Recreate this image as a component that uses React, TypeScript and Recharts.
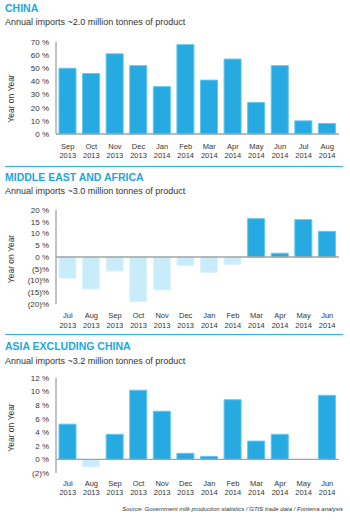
import React from "react";
import { Bar, BarChart, Cell, ReferenceLine, XAxis, YAxis } from "recharts";

const chinaMonths = [
  "Sep 2013", "Oct 2013", "Nov 2013", "Dec 2013", "Jan 2014", "Feb 2014",
  "Mar 2014", "Apr 2014", "May 2014", "Jun 2014", "Jul 2014", "Aug 2014",
];
const chinaValues = [50, 46, 61, 52, 36, 68, 41, 57, 24, 52, 10, 8];
const chinaTicks = [0, 10, 20, 30, 40, 50, 60, 70];

const meaMonths = [
  "Jul 2013", "Aug 2013", "Sep 2013", "Oct 2013", "Nov 2013", "Dec 2013",
  "Jan 2014", "Feb 2014", "Mar 2014", "Apr 2014", "May 2014", "Jun 2014",
];
const meaValues = [-9, -13.6, -6, -19, -14, -3.7, -6.5, -3.1, 16.3, 1.6, 15.9, 10.9];
const meaTicks = [-20, -15, -10, -5, 0, 5, 10, 15, 20];

const asiaMonths = [
  "Jul 2013", "Aug 2013", "Sep 2013", "Oct 2013", "Nov 2013", "Dec 2013",
  "Jan 2014", "Feb 2014", "Mar 2014", "Apr 2014", "May 2014", "Jun 2014",
];
const asiaValues = [5.2, -1.1, 3.7, 10.2, 7.1, 0.9, 0.45, 8.8, 2.7, 3.7, 0, 9.45];
const asiaTicks = [-2, 0, 2, 4, 6, 8, 10, 12];

const FONT = '"Liberation Sans", Arial, sans-serif';
const BLUE = "#27a9e1";
const BLUE_EDGE = "#62c7f0";
const PALE = "#c9ecfb";
const PALE_EDGE = "#dcf3fd";
const TITLE = "#1fa6e2";
const TEXT = "#333";
const AXIS = "#a3a3a3";

const pct = (v: number) => (v < 0 ? `(${-v})%` : `${v} %`);

function MonthTick(props: any) {
  const { x, y, payload, dy1, dy2 } = props;
  const [m, yr] = String(payload.value).split(" ");
  return (
    <text textAnchor="middle" fontSize={7.5} fill={TEXT} fontFamily={FONT}>
      <tspan x={x} y={y + dy1}>{m}</tspan>
      <tspan x={x} y={y + dy2}>{yr}</tspan>
    </text>
  );
}

function PctTick(props: any) {
  const { x, y, payload } = props;
  return (
    <text x={x - 7} y={y} dy="0.35em" textAnchor="end" fontSize={8} fill={TEXT} fontFamily={FONT}>
      {pct(payload.value)}
    </text>
  );
}

function YearLabel(props: any) {
  const { viewBox, shift } = props;
  const cx = 10.5;
  const cy = viewBox.y + viewBox.height / 2 + shift;
  return (
    <text
      x={cx}
      y={cy}
      transform={`rotate(-90 ${cx} ${cy})`}
      textAnchor="middle"
      dominantBaseline="central"
      fontSize={8.5}
      fill={TEXT}
      fontFamily={FONT}
    >
      Year on Year
    </text>
  );
}

type PanelProps = {
  months: string[];
  values: number[];
  ticks: number[];
  top: number;
  height: number;
  marginTop: number;
  axisHeight: number;
  dy1: number;
  dy2: number;
  labelShift: number;
};

function Panel({ months, values, ticks, top, height, marginTop, axisHeight, dy1, dy2, labelShift }: PanelProps) {
  const data = months.map((month, i) => ({ month, value: values[i] }));
  return (
    <div style={{ position: "absolute", left: 0, top }}>
      <BarChart
        width={350}
        height={height}
        data={data}
        margin={{ top: marginTop, right: 11, bottom: 0, left: 0 }}
      >
        <XAxis
          dataKey="month"
          axisLine={false}
          tickLine={false}
          tickSize={0}
          tickMargin={0}
          height={axisHeight}
          interval={0}
          tick={<MonthTick dy1={dy1} dy2={dy2} />}
        />
        <YAxis
          type="number"
          width={56}
          domain={[ticks[0], ticks[ticks.length - 1]]}
          ticks={ticks}
          interval={0}
          axisLine={{ stroke: AXIS, strokeWidth: 1.3 }}
          tickLine={false}
          tickSize={0}
          tickMargin={0}
          tick={<PctTick />}
          label={<YearLabel shift={labelShift} />}
        />
        <ReferenceLine y={0} stroke={AXIS} strokeWidth={1.3} />
        <Bar dataKey="value" barSize={17} isAnimationActive={false} strokeWidth={1}>
          {data.map((d) => (
            <Cell
              key={d.month}
              fill={d.value < 0 ? PALE : BLUE}
              stroke={d.value < 0 ? PALE_EDGE : BLUE_EDGE}
            />
          ))}
        </Bar>
      </BarChart>
    </div>
  );
}

function Heading({ title, subtitle, top }: { title: string; subtitle: string; top: number }) {
  return (
    <>
      <div
        style={{
          position: "absolute",
          left: 5,
          top,
          fontSize: 10.5,
          lineHeight: "10.5px",
          fontWeight: "bold",
          color: TITLE,
          whiteSpace: "nowrap",
        }}
      >
        {title}
      </div>
      <div
        style={{
          position: "absolute",
          left: 5,
          top: top + 15.3,
          fontSize: 9,
          lineHeight: "9px",
          color: TEXT,
          whiteSpace: "nowrap",
        }}
      >
        {subtitle}
      </div>
    </>
  );
}

const Rule = ({ top }: { top: number }) => (
  <div style={{ position: "absolute", left: 5, top, width: 338, height: 1, background: "#2bb3e8" }} />
);

export default function App() {
  return (
    <div
      style={{
        position: "absolute",
        left: 0,
        top: 0,
        width: 350,
        height: 520,
        background: "#fff",
        fontFamily: FONT,
        overflow: "hidden",
      }}
    >
      <Heading title="CHINA" subtitle="Annual imports ~2.0 million tonnes of product" top={3.1} />
      <Panel
        months={chinaMonths}
        values={chinaValues}
        ticks={chinaTicks}
        top={34}
        height={130}
        marginTop={8}
        axisHeight={30}
        dy1={14.7}
        dy2={24}
        labelShift={10.5}
      />
      <Rule top={166} />

      <Heading title="MIDDLE EAST AND AFRICA" subtitle="Annual imports ~3.0 million tonnes of product" top={172.1} />
      <Panel
        months={meaMonths}
        values={meaValues}
        ticks={meaTicks}
        top={200}
        height={134}
        marginTop={10}
        axisHeight={30}
        dy1={14}
        dy2={23.5}
        labelShift={2}
      />
      <Rule top={334} />

      <Heading title="ASIA EXCLUDING CHINA" subtitle="Annual imports ~3.2 million tonnes of product" top={341.4} />
      <Panel
        months={asiaMonths}
        values={asiaValues}
        ticks={asiaTicks}
        top={368}
        height={133}
        marginTop={10}
        axisHeight={28}
        dy1={13}
        dy2={22}
        labelShift={2}
      />
      <div
        style={{
          position: "absolute",
          right: 7,
          top: 506,
          fontSize: 6,
          lineHeight: "6px",
          fontStyle: "italic",
          color: TEXT,
          whiteSpace: "nowrap",
        }}
      >
        Source: Government milk production statistics / GTIS trade data / Fonterra analysis
      </div>
    </div>
  );
}
